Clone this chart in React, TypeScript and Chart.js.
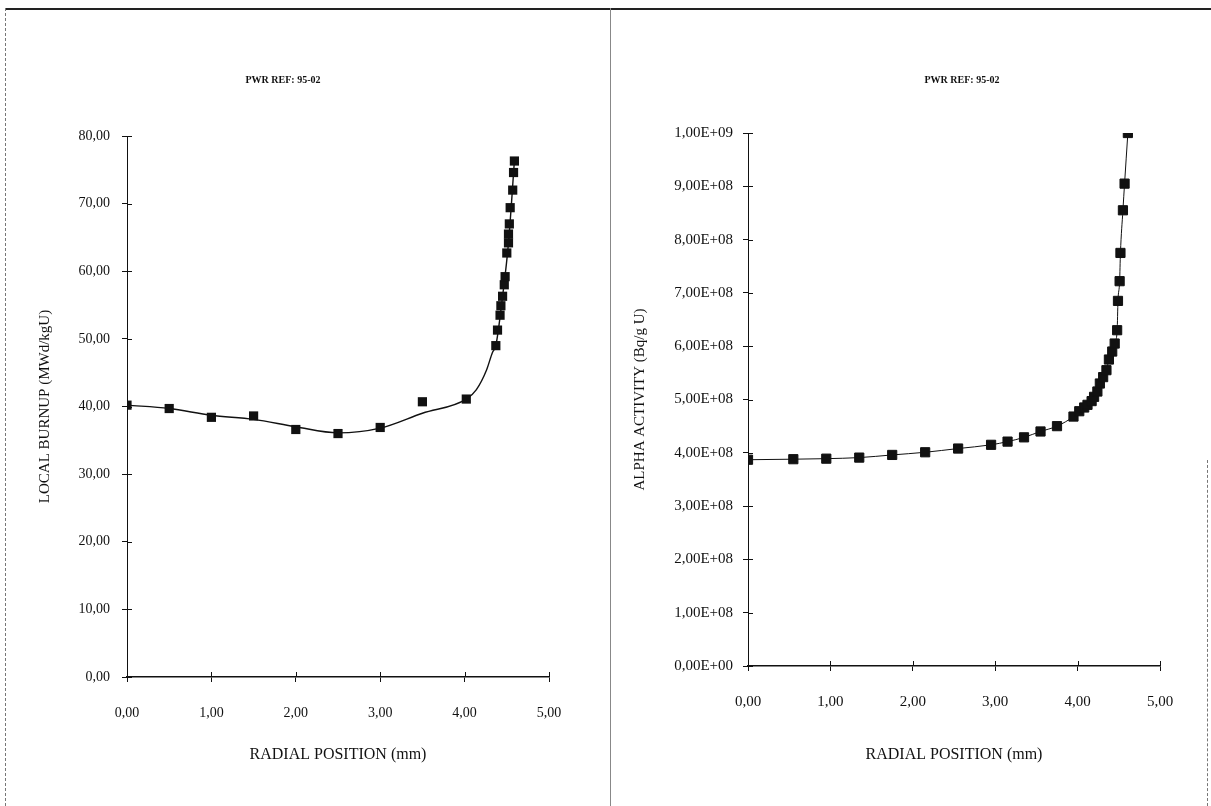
import React, { useEffect, useRef } from 'react';
import { Chart, registerables } from 'chart.js';

Chart.register(...registerables);

// Local burnup measurements (mm, MWd/kgU)
const burnupX = [0.0, 0.5, 1.0, 1.5, 2.0, 2.5, 3.0, 3.5, 4.02, 4.37, 4.39, 4.42, 4.43, 4.45, 4.47, 4.48, 4.5, 4.52, 4.52, 4.53, 4.54, 4.57, 4.58, 4.59];
const burnupY = [40.2, 39.7, 38.4, 38.6, 36.6, 36.0, 36.9, 40.7, 41.1, 49.0, 51.3, 53.5, 54.9, 56.3, 58.0, 59.2, 62.7, 64.2, 65.5, 67.0, 69.4, 72.0, 74.6, 76.3];

// Smoothed burnup profile
const burnupFitX = [0.0, 0.5, 1.0, 1.5, 2.0, 2.5, 3.0, 3.5, 4.02, 4.14, 4.26, 4.33, 4.37, 4.45, 4.52, 4.59];
const burnupFitY = [40.2, 39.7, 38.7, 38.1, 37.0, 36.1, 36.8, 39.0, 41.1, 42.5, 45.4, 48.0, 49.0, 56.3, 64.2, 76.3];

// Alpha activity (mm, Bq/g U)
const alphaX = [0.0, 0.55, 0.95, 1.35, 1.75, 2.15, 2.55, 2.95, 3.15, 3.35, 3.55, 3.75, 3.95, 4.02, 4.08, 4.12, 4.17, 4.2, 4.24, 4.27, 4.31, 4.35, 4.38, 4.42, 4.45, 4.48, 4.49, 4.51, 4.52, 4.55, 4.57, 4.61];
const alphaY = [3.87e8, 3.88e8, 3.89e8, 3.91e8, 3.96e8, 4.01e8, 4.08e8, 4.15e8, 4.21e8, 4.29e8, 4.4e8, 4.5e8, 4.68e8, 4.78e8, 4.85e8, 4.9e8, 4.97e8, 5.05e8, 5.15e8, 5.3e8, 5.42e8, 5.55e8, 5.75e8, 5.9e8, 6.05e8, 6.3e8, 6.85e8, 7.22e8, 7.75e8, 8.55e8, 9.05e8, 1.0e9];

const radialTickLabels = ['0,00', '1,00', '2,00', '3,00', '4,00', '5,00'];
const burnupTickLabels = ['0,00', '10,00', '20,00', '30,00', '40,00', '50,00', '60,00', '70,00', '80,00'];
const alphaTickLabels = ['0,00E+00', '1,00E+08', '2,00E+08', '3,00E+08', '4,00E+08', '5,00E+08', '6,00E+08', '7,00E+08', '8,00E+08', '9,00E+08', '1,00E+09'];

const chartTitle = 'PWR REF: 95-02';
const xTitle = 'RADIAL POSITION (mm)';
const burnupTitle = 'LOCAL BURNUP (MWd/kgU)';
const alphaTitle = 'ALPHA ACTIVITY (Bq/g U)';

const FONT = '"Liberation Serif", "Times New Roman", serif';
const INK = '#111';

const toPoints = (xs: number[], ys: number[]) => xs.map((x, i) => ({ x, y: ys[i] }));

// Short tick marks on the inside of the axes (cross-style ticks)
const innerTicks = {
  id: 'innerTicks',
  afterDatasetsDraw(chart: any) {
    const { ctx, chartArea } = chart;
    const xs = chart.scales.x;
    const ys = chart.scales.y;
    ctx.save();
    ctx.strokeStyle = INK;
    ctx.lineWidth = 1;
    ctx.beginPath();
    ys.ticks.forEach((t: any) => {
      const py = Math.round(ys.getPixelForValue(t.value)) + 0.5;
      ctx.moveTo(chartArea.left, py);
      ctx.lineTo(chartArea.left + 5, py);
    });
    xs.ticks.forEach((t: any) => {
      const px = Math.round(xs.getPixelForValue(t.value)) + 0.5;
      ctx.moveTo(px, chartArea.bottom);
      ctx.lineTo(px, chartArea.bottom - 5);
    });
    ctx.stroke();
    ctx.restore();
  },
};

// Panel heading placed at a fixed point of the canvas
const headingPlugin = (text: string, cx: number, cy: number) => ({
  id: 'panelHeading',
  afterDraw(chart: any) {
    const { ctx } = chart;
    ctx.save();
    ctx.fillStyle = INK;
    ctx.font = `bold 10px ${FONT}`;
    ctx.textAlign = 'center';
    ctx.textBaseline = 'middle';
    ctx.fillText(text, cx, cy);
    ctx.restore();
  },
});

type Layout = {
  yWidth: number;
  xHeight: number;
  padRight: number;
  padTop: number;
  headX: number;
  headY: number;
  yTitlePad: number;
  yTickPad: number;
  xTickPad: number;
  tickSize: number;
};

function makeConfig(
  datasets: any[],
  yMax: number,
  yStep: number,
  yLabels: string[],
  yTitle: string,
  L: Layout
): any {
  const tickFont = { family: FONT, size: L.tickSize };
  return {
    type: 'scatter',
    data: { datasets },
    plugins: [innerTicks, headingPlugin(chartTitle, L.headX, L.headY)],
    options: {
      responsive: false,
      animation: false,
      events: [],
      layout: { padding: { left: 0, right: L.padRight, top: L.padTop, bottom: 0 } },
      plugins: {
        legend: { display: false },
        tooltip: { enabled: false },
        title: { display: false },
      },
      scales: {
        x: {
          type: 'linear',
          min: 0,
          max: 5,
          afterFit: (s: any) => {
            s.height = L.xHeight;
          },
          afterBuildTicks: (s: any) => {
            s.ticks = radialTickLabels.map((_, i) => ({ value: i }));
          },
          ticks: {
            color: INK,
            font: tickFont,
            padding: L.xTickPad,
            maxRotation: 0,
            callback: (_v: any, i: number) => radialTickLabels[i],
          },
          grid: { drawOnChartArea: false, drawTicks: true, tickLength: 5, color: INK },
          border: { display: true, color: INK, width: 1.5 },
          title: {
            display: true,
            text: xTitle,
            color: INK,
            font: { family: FONT, size: 16 },
            padding: { top: 0, bottom: 42 },
          },
        },
        y: {
          type: 'linear',
          min: 0,
          max: yMax,
          afterFit: (s: any) => {
            s.width = L.yWidth;
          },
          afterBuildTicks: (s: any) => {
            s.ticks = yLabels.map((_, i) => ({ value: i * yStep }));
          },
          ticks: {
            color: INK,
            font: tickFont,
            padding: L.yTickPad,
            callback: (_v: any, i: number) => yLabels[i],
          },
          grid: { drawOnChartArea: false, drawTicks: true, tickLength: 5, color: INK },
          border: { display: true, color: INK, width: 1 },
          title: {
            display: true,
            text: yTitle,
            color: INK,
            font: { family: FONT, size: 15 },
            padding: { top: L.yTitlePad, bottom: 0 },
          },
        },
      },
    },
  };
}

const markerStyle = {
  showLine: false,
  pointStyle: 'rect',
  pointRadius: 6.5,
  backgroundColor: '#111',
  borderColor: '#111',
  borderWidth: 0,
};

export default function App() {
  const leftRef = useRef<HTMLCanvasElement>(null);
  const rightRef = useRef<HTMLCanvasElement>(null);

  useEffect(() => {
    const left = new Chart(
      leftRef.current as HTMLCanvasElement,
      makeConfig(
        [
          { ...markerStyle, data: toPoints(burnupX, burnupY) },
          {
            data: toPoints(burnupFitX, burnupFitY),
            showLine: true,
            pointRadius: 0,
            borderColor: INK,
            borderWidth: 1.4,
            cubicInterpolationMode: 'monotone',
          },
        ],
        80,
        10,
        burnupTickLabels,
        burnupTitle,
        {
          yWidth: 127, xHeight: 129, padRight: 61, padTop: 136, headX: 283, headY: 80,
          yTitlePad: 36, yTickPad: 12, xTickPad: 23, tickSize: 14,
        }
      )
    );
    const right = new Chart(
      rightRef.current as HTMLCanvasElement,
      makeConfig(
        [
          {
            ...markerStyle,
            data: toPoints(alphaX, alphaY),
            showLine: true,
            borderColor: INK,
            borderWidth: 1,
            cubicInterpolationMode: 'monotone',
          },
        ],
        1e9,
        1e8,
        alphaTickLabels,
        alphaTitle,
        {
          yWidth: 138, xHeight: 140, padRight: 51, padTop: 133, headX: 352, headY: 80,
          yTitlePad: 21, yTickPad: 10, xTickPad: 22, tickSize: 15,
        }
      )
    );
    return () => {
      left.destroy();
      right.destroy();
    };
  }, []);

  return (
    <div
      style={{
        position: 'absolute',
        left: 0,
        top: 0,
        width: 1211,
        height: 806,
        background: '#fff',
        overflow: 'hidden',
      }}
    >
      <canvas ref={leftRef} width={610} height={806} style={{ position: 'absolute', left: 0, top: 0 }} />
      <canvas ref={rightRef} width={601} height={806} style={{ position: 'absolute', left: 610, top: 0 }} />
      {/* page frame */}
      <div style={{ position: 'absolute', left: 5, top: 8, width: 1206, height: 2, background: '#222' }} />
      <div style={{ position: 'absolute', left: 5, top: 8, width: 0, height: 798, borderLeft: '1px dashed #777' }} />
      <div style={{ position: 'absolute', left: 610, top: 8, width: 0, height: 798, borderLeft: '1px solid #888' }} />
      <div style={{ position: 'absolute', left: 1207, top: 460, width: 0, height: 346, borderLeft: '1px dashed #777' }} />
    </div>
  );
}
